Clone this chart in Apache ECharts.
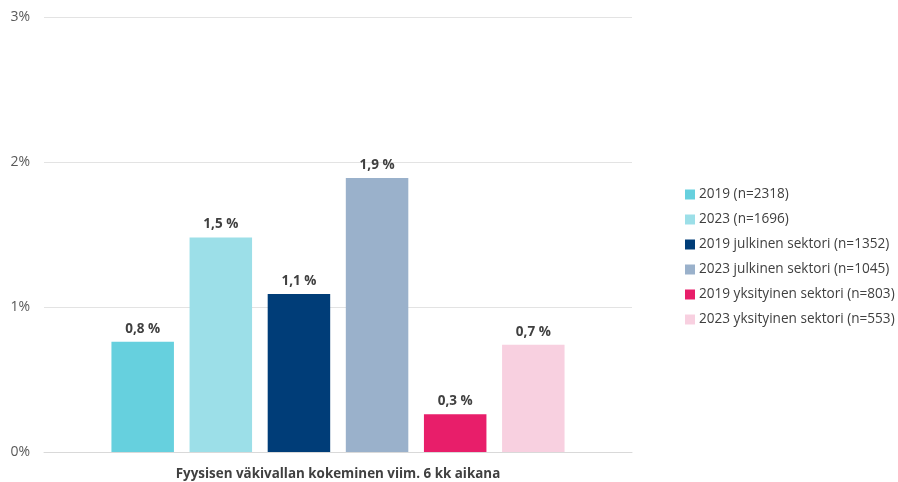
<!DOCTYPE html>
<html>
<head>
<meta charset="utf-8">
<script src="https://cdn.jsdelivr.net/npm/echarts@6/dist/echarts.min.js"></script>
<style>
  html, body { margin: 0; padding: 0; background: #ffffff; }
  #chart { width: 898px; height: 482px; }
</style>
</head>
<body>
<div id="chart"></div>
<script>
// Single category, one bar per survey group
const categories = ['Fyysisen väkivallan kokeminen viim. 6 kk aikana'];
const seriesNames = [
  '2019 (n=2318)',
  '2023 (n=1696)',
  '2019 julkinen sektori (n=1352)',
  '2023 julkinen sektori (n=1045)',
  '2019 yksityinen sektori (n=803)',
  '2023 yksityinen sektori (n=553)'
];
// Share of respondents, percent
const seriesValues = [0.76, 1.48, 1.09, 1.89, 0.26, 0.74];
const seriesColors = ['#66D0DE', '#9CDFE8', '#003D78', '#9AB1CB', '#E81E6A', '#F8D0E0'];
const yTicks = [0, 1, 2, 3];

const FONT = '"Open Sans", "Noto Sans", sans-serif';

const chart = echarts.init(document.getElementById('chart'));

const series = seriesNames.map((name, i) => ({
  name: name,
  type: 'bar',
  data: [seriesValues[i]],
  itemStyle: { color: seriesColors[i] },
  barWidth: 62.5,
  barGap: '25%',
  label: {
    show: true,
    position: 'top',
    distance: 6,
    fontFamily: FONT,
    fontSize: 13.5,
    fontWeight: 'bold',
    color: '#404040',
    formatter: p => p.value.toFixed(1).replace('.', ',') + ' %'
  }
}));

chart.setOption({
  animation: false,
  grid: { left: 44, right: 266, top: 17, bottom: 30 },
  legend: {
    orient: 'vertical',
    left: 685,
    top: 187,
    padding: 0,
    itemWidth: 10,
    itemHeight: 10,
    itemGap: 10,
    icon: 'rect',
    textStyle: { fontFamily: FONT, fontSize: 13.6, color: '#404040', lineHeight: 15, padding: [0, 0, 0, -1] },
    data: seriesNames
  },
  xAxis: {
    type: 'category',
    data: categories,
    axisTick: { show: false },
    axisLine: { lineStyle: { color: '#D9D9D9', width: 1 } },
    axisLabel: {
      margin: 16,
      fontFamily: FONT,
      fontSize: 13.4,
      fontWeight: 'bold',
      color: '#404040'
    }
  },
  yAxis: {
    type: 'value',
    min: yTicks[0],
    max: yTicks[yTicks.length - 1],
    interval: 1,
    axisLine: { show: false },
    axisTick: { show: false },
    splitLine: { lineStyle: { color: '#E3E3E3', width: 1 } },
    axisLabel: {
      margin: 14,
      fontFamily: FONT,
      fontSize: 14,
      color: '#595959',
      formatter: v => v + '%'
    }
  },
  series: series
});
</script>
</body>
</html>
